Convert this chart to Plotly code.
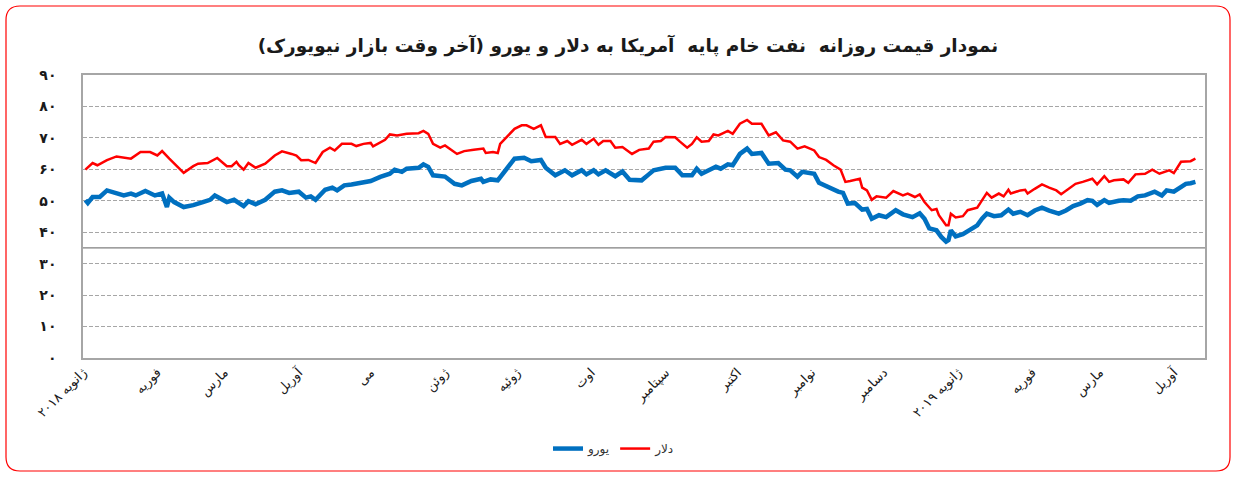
import plotly.graph_objects as go

# ---------------- data ----------------
usd_dates = [
    "2018-01-02", "2018-01-05", "2018-01-07", "2018-01-11", "2018-01-15", "2018-01-21", "2018-01-25",
    "2018-01-29", "2018-02-01", "2018-02-03", "2018-02-06", "2018-02-10", "2018-02-12", "2018-02-16",
    "2018-02-18", "2018-02-22", "2018-02-26", "2018-03-02", "2018-03-04", "2018-03-06", "2018-03-07",
    "2018-03-09", "2018-03-11", "2018-03-14", "2018-03-18", "2018-03-22", "2018-03-25", "2018-03-29",
    "2018-03-31", "2018-04-02", "2018-04-05", "2018-04-08", "2018-04-11", "2018-04-14", "2018-04-16",
    "2018-04-19", "2018-04-23", "2018-04-25", "2018-04-28", "2018-05-01",
    "2018-05-02", "2018-05-07", "2018-05-09", "2018-05-12", "2018-05-16", "2018-05-21", "2018-05-23",
    "2018-05-25", "2018-05-27", "2018-05-30", "2018-06-01", "2018-06-06", "2018-06-09", "2018-06-13",
    "2018-06-17", "2018-06-18", "2018-06-21", "2018-06-23", "2018-06-24", "2018-06-27", "2018-06-30",
    "2018-07-03", "2018-07-05", "2018-07-08", "2018-07-11", "2018-07-13", "2018-07-17", "2018-07-19",
    "2018-07-22", "2018-07-24", "2018-07-28", "2018-07-30", "2018-08-02", "2018-08-04", "2018-08-06",
    "2018-08-09", "2018-08-11", "2018-08-14", "2018-08-18", "2018-08-21", "2018-08-25", "2018-08-27",
    "2018-08-30", "2018-09-01", "2018-09-05", "2018-09-07", "2018-09-10", "2018-09-12", "2018-09-14",
    "2018-09-16", "2018-09-19", "2018-09-21", "2018-09-23", "2018-09-27", "2018-09-29", "2018-10-02",
    "2018-10-05", "2018-10-07", "2018-10-11", "2018-10-14", "2018-10-17", "2018-10-20", "2018-10-23",
    "2018-10-26", "2018-10-29", "2018-11-02", "2018-11-04", "2018-11-07", "2018-11-10", "2018-11-13",
    "2018-11-15", "2018-11-17", "2018-11-21", "2018-11-22", "2018-11-24", "2018-11-26", "2018-11-28",
    "2018-12-02", "2018-12-05", "2018-12-09", "2018-12-11", "2018-12-14", "2018-12-16", "2018-12-18",
    "2018-12-21", "2018-12-23", "2018-12-24", "2018-12-27", "2018-12-28", "2018-12-29", "2018-12-31",
    "2019-01-03", "2019-01-05", "2019-01-09", "2019-01-11", "2019-01-13", "2019-01-15", "2019-01-18",
    "2019-01-20", "2019-01-22", "2019-01-23", "2019-01-27", "2019-01-29", "2019-01-30", "2019-02-02",
    "2019-02-05", "2019-02-08", "2019-02-11", "2019-02-13", "2019-02-15", "2019-02-19", "2019-02-22",
    "2019-02-26", "2019-02-28", "2019-03-03", "2019-03-05", "2019-03-07", "2019-03-11", "2019-03-13",
    "2019-03-16", "2019-03-20", "2019-03-23", "2019-03-26", "2019-03-30", "2019-04-01", "2019-04-04",
    "2019-04-07", "2019-04-08", "2019-04-10",
]
usd_values = [
    59.9, 62.0, 61.3, 62.9, 64.1, 63.4, 65.5,
    65.5, 64.4, 65.8, 63.4, 60.2, 58.9, 61.0,
    61.8, 62.0, 63.6, 61.0, 61.0, 62.4, 61.3,
    59.9, 62.0, 60.5, 61.8, 64.4, 65.7, 64.9,
    64.4, 62.9, 63.0, 62.0, 65.5, 66.9, 66.0,
    68.1, 68.1, 67.4, 68.1, 68.4,
    67.3, 69.4, 71.1, 70.8, 71.3, 71.5, 72.2,
    71.3, 68.1, 66.9, 67.6, 64.9, 65.8, 66.2,
    66.6, 65.2, 65.5, 65.2, 68.1, 70.5, 72.9,
    74.0, 74.0, 72.9, 74.0, 70.3, 70.3, 68.1,
    69.0, 67.8, 69.4, 68.1, 69.7, 67.8, 69.0,
    69.0, 66.9, 67.1, 64.9, 66.2, 66.6, 68.8,
    69.0, 70.3, 70.2, 68.8, 66.9, 68.1, 70.2,
    68.8, 69.0, 71.1, 70.8, 72.2, 71.3, 74.5,
    75.7, 74.5, 74.5, 70.8, 71.8, 69.2, 68.8,
    66.6, 67.3, 66.0, 63.9, 63.0, 61.3, 59.9,
    56.0, 56.3, 57.0, 54.2, 53.3, 50.3, 51.4,
    51.0, 53.1, 51.7, 52.3, 51.2, 52.0, 49.6,
    47.0, 47.4, 45.4, 42.2, 42.2, 45.9, 44.7,
    45.1, 47.0, 47.8, 50.2, 52.5, 51.0, 52.3,
    51.4, 53.5, 52.3, 53.3, 53.5, 52.3, 53.8,
    55.2, 54.2, 53.3, 52.1, 53.3, 55.4, 56.0,
    57.0, 55.2, 57.8, 56.0, 56.5, 56.8, 55.7,
    58.4, 58.6, 59.9, 58.6, 59.7, 58.8, 62.4,
    62.4, 62.6, 63.4,
]

eur_dates = [
    "2018-01-02", "2018-01-03", "2018-01-05", "2018-01-08", "2018-01-11", "2018-01-15", "2018-01-18",
    "2018-01-21", "2018-01-23", "2018-01-27", "2018-01-31", "2018-02-03", "2018-02-05", "2018-02-06",
    "2018-02-08", "2018-02-12", "2018-02-16", "2018-02-20", "2018-02-23", "2018-02-25", "2018-03-02",
    "2018-03-05", "2018-03-09", "2018-03-11", "2018-03-14", "2018-03-18", "2018-03-22", "2018-03-25",
    "2018-03-28", "2018-04-01", "2018-04-04", "2018-04-06", "2018-04-08", "2018-04-12", "2018-04-15",
    "2018-04-17", "2018-04-20", "2018-04-23", "2018-04-28", "2018-05-01",
    "2018-05-05", "2018-05-09", "2018-05-11", "2018-05-14", "2018-05-16", "2018-05-21", "2018-05-23",
    "2018-05-25", "2018-05-27", "2018-06-01", "2018-06-05", "2018-06-08", "2018-06-12", "2018-06-16",
    "2018-06-17", "2018-06-20", "2018-06-23", "2018-06-25", "2018-06-28", "2018-06-30", "2018-07-04",
    "2018-07-07", "2018-07-11", "2018-07-13", "2018-07-17", "2018-07-21", "2018-07-24", "2018-07-28",
    "2018-07-30", "2018-08-02", "2018-08-04", "2018-08-07", "2018-08-11", "2018-08-14", "2018-08-17",
    "2018-08-22", "2018-08-25", "2018-08-27",
    "2018-09-01", "2018-09-05", "2018-09-08", "2018-09-12", "2018-09-14", "2018-09-16", "2018-09-19",
    "2018-09-22", "2018-09-24", "2018-09-27", "2018-09-29", "2018-10-02", "2018-10-05", "2018-10-07",
    "2018-10-11", "2018-10-14", "2018-10-18", "2018-10-21", "2018-10-23", "2018-10-26", "2018-10-28",
    "2018-11-02", "2018-11-04", "2018-11-08", "2018-11-12", "2018-11-14", "2018-11-16", "2018-11-19",
    "2018-11-22", "2018-11-24", "2018-11-26", "2018-11-29", "2018-12-02", "2018-12-06", "2018-12-09",
    "2018-12-13", "2018-12-16", "2018-12-18", "2018-12-20", "2018-12-23", "2018-12-24",
    "2018-12-25", "2018-12-27", "2018-12-28", "2018-12-29", "2018-12-31", "2019-01-03", "2019-01-06",
    "2019-01-09", "2019-01-11", "2019-01-13", "2019-01-16", "2019-01-19", "2019-01-22", "2019-01-24",
    "2019-01-27", "2019-01-30", "2019-02-02", "2019-02-05", "2019-02-08", "2019-02-12", "2019-02-15",
    "2019-02-18", "2019-02-21", "2019-02-24", "2019-02-26", "2019-02-28", "2019-03-03", "2019-03-05",
    "2019-03-09", "2019-03-11", "2019-03-14", "2019-03-17", "2019-03-20", "2019-03-24", "2019-03-27",
    "2019-03-29", "2019-04-01", "2019-04-03", "2019-04-06", "2019-04-08", "2019-04-10",
]
eur_values = [
    50.2, 49.3, 51.2, 51.2, 53.3, 52.5, 51.7,
    52.3, 51.7, 53.1, 51.7, 52.3, 48.0, 51.0,
    49.6, 48.0, 48.6, 49.6, 50.3, 51.7, 49.6,
    50.3, 48.3, 49.9, 48.9, 50.3, 52.9, 53.3,
    52.5, 52.9, 51.0, 51.4, 50.3, 53.5, 54.2,
    53.3, 54.9, 55.2, 56.0, 56.3,
    57.6, 58.6, 59.9, 59.2, 60.2, 60.5, 61.6,
    60.8, 58.1, 57.7, 55.4, 54.9, 56.3, 57.0,
    56.0, 56.8, 56.5, 58.6, 61.3, 63.4, 63.7,
    62.6, 63.0, 60.5, 58.1, 59.7, 58.1, 59.7,
    58.4, 59.7, 58.4, 59.7, 57.8, 59.3, 56.7,
    56.5, 58.4, 59.7,
    60.5, 60.5, 58.1, 58.1, 60.2, 58.6, 59.7,
    60.8, 60.2, 61.6, 61.3, 64.9, 66.6, 64.9,
    65.2, 61.8, 62.0, 59.9, 59.7, 57.7, 59.2,
    58.6, 55.7, 54.2, 52.9, 52.5, 49.1, 49.3,
    47.2, 47.4, 44.3, 45.4, 44.8, 47.0, 45.7,
    44.8, 46.0, 44.3, 41.2, 40.6, 39.4,
    38.5, 37.0, 37.5, 40.6, 38.7, 39.4, 40.8,
    42.2, 44.3, 45.9, 45.1, 45.4, 47.2, 45.9,
    46.5, 45.4, 46.9, 47.8, 46.9, 45.9, 46.9,
    48.3, 49.1, 50.2, 50.0, 48.7, 50.2, 49.3,
    50.0, 50.2, 50.0, 51.4, 51.7, 52.9, 51.7,
    53.3, 52.9, 53.8, 55.4, 55.6, 56.0,
]

month_ticks = [
    "2018-01-01", "2018-02-01", "2018-03-01", "2018-04-01", "2018-05-01", "2018-06-01",
    "2018-07-01", "2018-08-01", "2018-09-01", "2018-10-01", "2018-11-01", "2018-12-01",
    "2019-01-01", "2019-02-01", "2019-03-01", "2019-04-01",
]
month_labels = [
    "ژانویه ۲۰۱۸", "فوریه", "مارس", "آوریل", "می", "ژوئن", "ژوئیه", "اوت",
    "سپتامبر", "اکتبر", "نوامبر", "دسامبر", "ژانویه ۲۰۱۹", "فوریه", "مارس", "آوریل",
]
y_ticks = [0, 10, 20, 30, 40, 50, 60, 70, 80, 90]
y_labels = ["۰", "۱۰", "۲۰", "۳۰", "۴۰", "۵۰", "۶۰", "۷۰", "۸۰", "۹۰"]

title_text = "نمودار قیمت روزانه  نفت خام پایه  آمریکا به دلار و یورو (آخر وقت بازار نیویورک)"
name_eur = "یورو"
name_usd = "دلار"

# ---------------- layout constants ----------------
W, H = 1236, 477
ML, MR, MT, MB = 83, 31, 75, 119
FONT = "DejaVu Sans"

fig = go.Figure()
fig.add_trace(go.Scatter(x=eur_dates, y=eur_values, mode="lines", name=name_eur,
                         line=dict(color="#0070C0", width=4.5)))
fig.add_trace(go.Scatter(x=usd_dates, y=usd_values, mode="lines", name=name_usd,
                         line=dict(color="#FF0000", width=2.5)))

# solid horizontal reference line at 35
fig.add_shape(type="line", xref="paper", yref="y", x0=0, x1=1, y0=35, y1=35,
              line=dict(color="#7F7F7F", width=1.2), layer="below")

# rounded red outer frame (in paper units derived from pixel margins)
pw, ph = W - ML - MR, H - MT - MB
def px(x):
    return (x - ML) / pw
def py(y):
    return (H - MB - y) / ph
x0, x1, y0, y1, r = 6, 1230, 6, 471, 14
path = (f"M {px(x0 + r)},{py(y0)} L {px(x1 - r)},{py(y0)} "
        f"Q {px(x1)},{py(y0)} {px(x1)},{py(y0 + r)} "
        f"L {px(x1)},{py(y1 - r)} Q {px(x1)},{py(y1)} {px(x1 - r)},{py(y1)} "
        f"L {px(x0 + r)},{py(y1)} Q {px(x0)},{py(y1)} {px(x0)},{py(y1 - r)} "
        f"L {px(x0)},{py(y0 + r)} Q {px(x0)},{py(y0)} {px(x0 + r)},{py(y0)} Z")
fig.add_shape(type="path", xref="paper", yref="paper", path=path,
              line=dict(color="#FF0000", width=1.2), layer="below")

fig.update_layout(
    width=W, height=H,
    margin=dict(l=ML, r=MR, t=MT, b=MB),
    paper_bgcolor="white", plot_bgcolor="white",
    font=dict(family=FONT, color="#1a1a1a"),
    title=dict(text=title_text, x=0.508, xanchor="center", y=0.905, yanchor="middle",
               font=dict(family=FONT, size=18.5, color="#1a1a1a", weight="bold")),
    showlegend=True,
    legend=dict(orientation="h", x=px(614), xanchor="center", y=-0.32, yanchor="middle",
                font=dict(size=12, color="#333"), tracegroupgap=0),
    xaxis=dict(type="date", range=["2018-01-01", "2019-04-14"], automargin=False,
               tickvals=month_ticks, ticktext=month_labels, tickangle=-45,
               tickfont=dict(size=13, color="#1a1a1a"),
               showgrid=False, zeroline=False, showline=True, mirror=True,
               linecolor="#A6A6A6", linewidth=1.5, ticks=""),
    yaxis=dict(range=[0, 90], tickvals=y_ticks, ticktext=y_labels, automargin=False,
               tickfont=dict(size=14, color="#1a1a1a", weight="bold"),
               showgrid=True, gridcolor="#A6A6A6", griddash="4px,2px", gridwidth=1,
               zeroline=False, showline=True, mirror=True,
               linecolor="#A6A6A6", linewidth=1.5, ticks="", ticklabelstandoff=22),
)

fig.write_html("out.html", config={"displayModeBar": False},
               post_script="document.body.style.margin='0px';")
